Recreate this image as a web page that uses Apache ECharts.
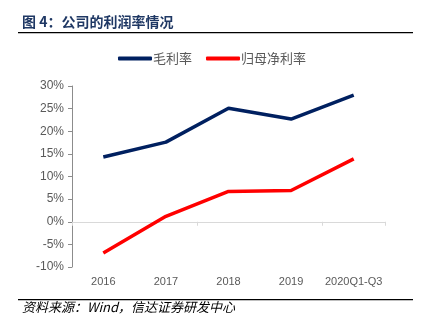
<!DOCTYPE html>
<html><head><meta charset="utf-8">
<script src="https://cdn.jsdelivr.net/npm/echarts@6/dist/echarts.min.js"></script>
<style>html,body{margin:0;padding:0;background:#fff}#c{width:424px;height:329px}</style>
</head><body><div id="c"></div>
<script>
const categories = ['2016', '2017', '2018', '2019', '2020Q1-Q3'];
const grossMargin = [14.3, 17.6, 25.1, 22.7, 28.0];
const netMargin = [-6.9, 1.2, 6.7, 6.9, 13.9];
const seriesNames = ['毛利率', '归母净利率'];
const titleText = '图 4：公司的利润率情况';
const sourceText = '资料来源：Wind，信达证券研发中心';

const chart = echarts.init(document.getElementById('c'), null, {renderer: 'canvas'});
const font = '"Liberation Sans", "Noto Sans CJK SC", sans-serif';
chart.setOption({
  animation: false,
  textStyle: {fontFamily: font},
  graphic: [
    {type: 'text', left: 22, top: 15, style: {text: titleText, font: 'bold 14px "Noto Sans CJK SC", sans-serif', fill: '#1F3864'}},
    {type: 'rect', shape: {x: 18, y: 32, width: 395, height: 1.3}, style: {fill: '#000'}},
    {type: 'rect', shape: {x: 18, y: 299, width: 395, height: 1.3}, style: {fill: '#000'}},
    {type: 'text', left: 22, top: 301, style: {text: sourceText, font: 'italic 13px "Noto Sans CJK SC", sans-serif', fill: '#000'}}
  ],
  legend: {
    top: 47, left: 'center', itemWidth: 34, itemHeight: 4, itemGap: 14,
    icon: 'roundRect',
    textStyle: {color: '#595959', fontSize: 13, fontFamily: '"Noto Sans CJK SC", sans-serif', padding: [0, 0, 0, -4]},
    data: seriesNames
  },
  grid: {left: 72, right: 39, top: 86, bottom: 62},
  xAxis: [
    {type: 'category', data: categories, position: 'bottom',
     axisLine: {show: false, onZero: false}, axisTick: {show: false},
     axisLabel: {color: '#595959', fontSize: 11, margin: 9, interval: 0}},
    {type: 'category', data: categories, position: 'top',
     axisLine: {show: true, onZero: true, lineStyle: {color: '#D9D9D9', width: 1}},
     axisTick: {show: true, inside: true, length: 4, lineStyle: {color: '#D9D9D9'}},
     axisLabel: {show: false}}
  ],
  yAxis: {
    type: 'value', min: -10, max: 30, interval: 5,
    axisLine: {show: true, lineStyle: {color: '#8C8C8C'}},
    axisTick: {show: true, length: 4, lineStyle: {color: '#8C8C8C'}},
    splitLine: {show: false},
    axisLabel: {color: '#595959', fontSize: 12, margin: 8, formatter: v => v + '%'}
  },
  series: [
    {name: seriesNames[0], type: 'line', data: grossMargin, symbol: 'none', xAxisIndex: 0,
     lineStyle: {color: '#002060', width: 3.5}, itemStyle: {color: '#002060'}},
    {name: seriesNames[1], type: 'line', data: netMargin, symbol: 'none', xAxisIndex: 0,
     lineStyle: {color: '#FF0000', width: 3.5}, itemStyle: {color: '#FF0000'}}
  ]
});
</script></body></html>
